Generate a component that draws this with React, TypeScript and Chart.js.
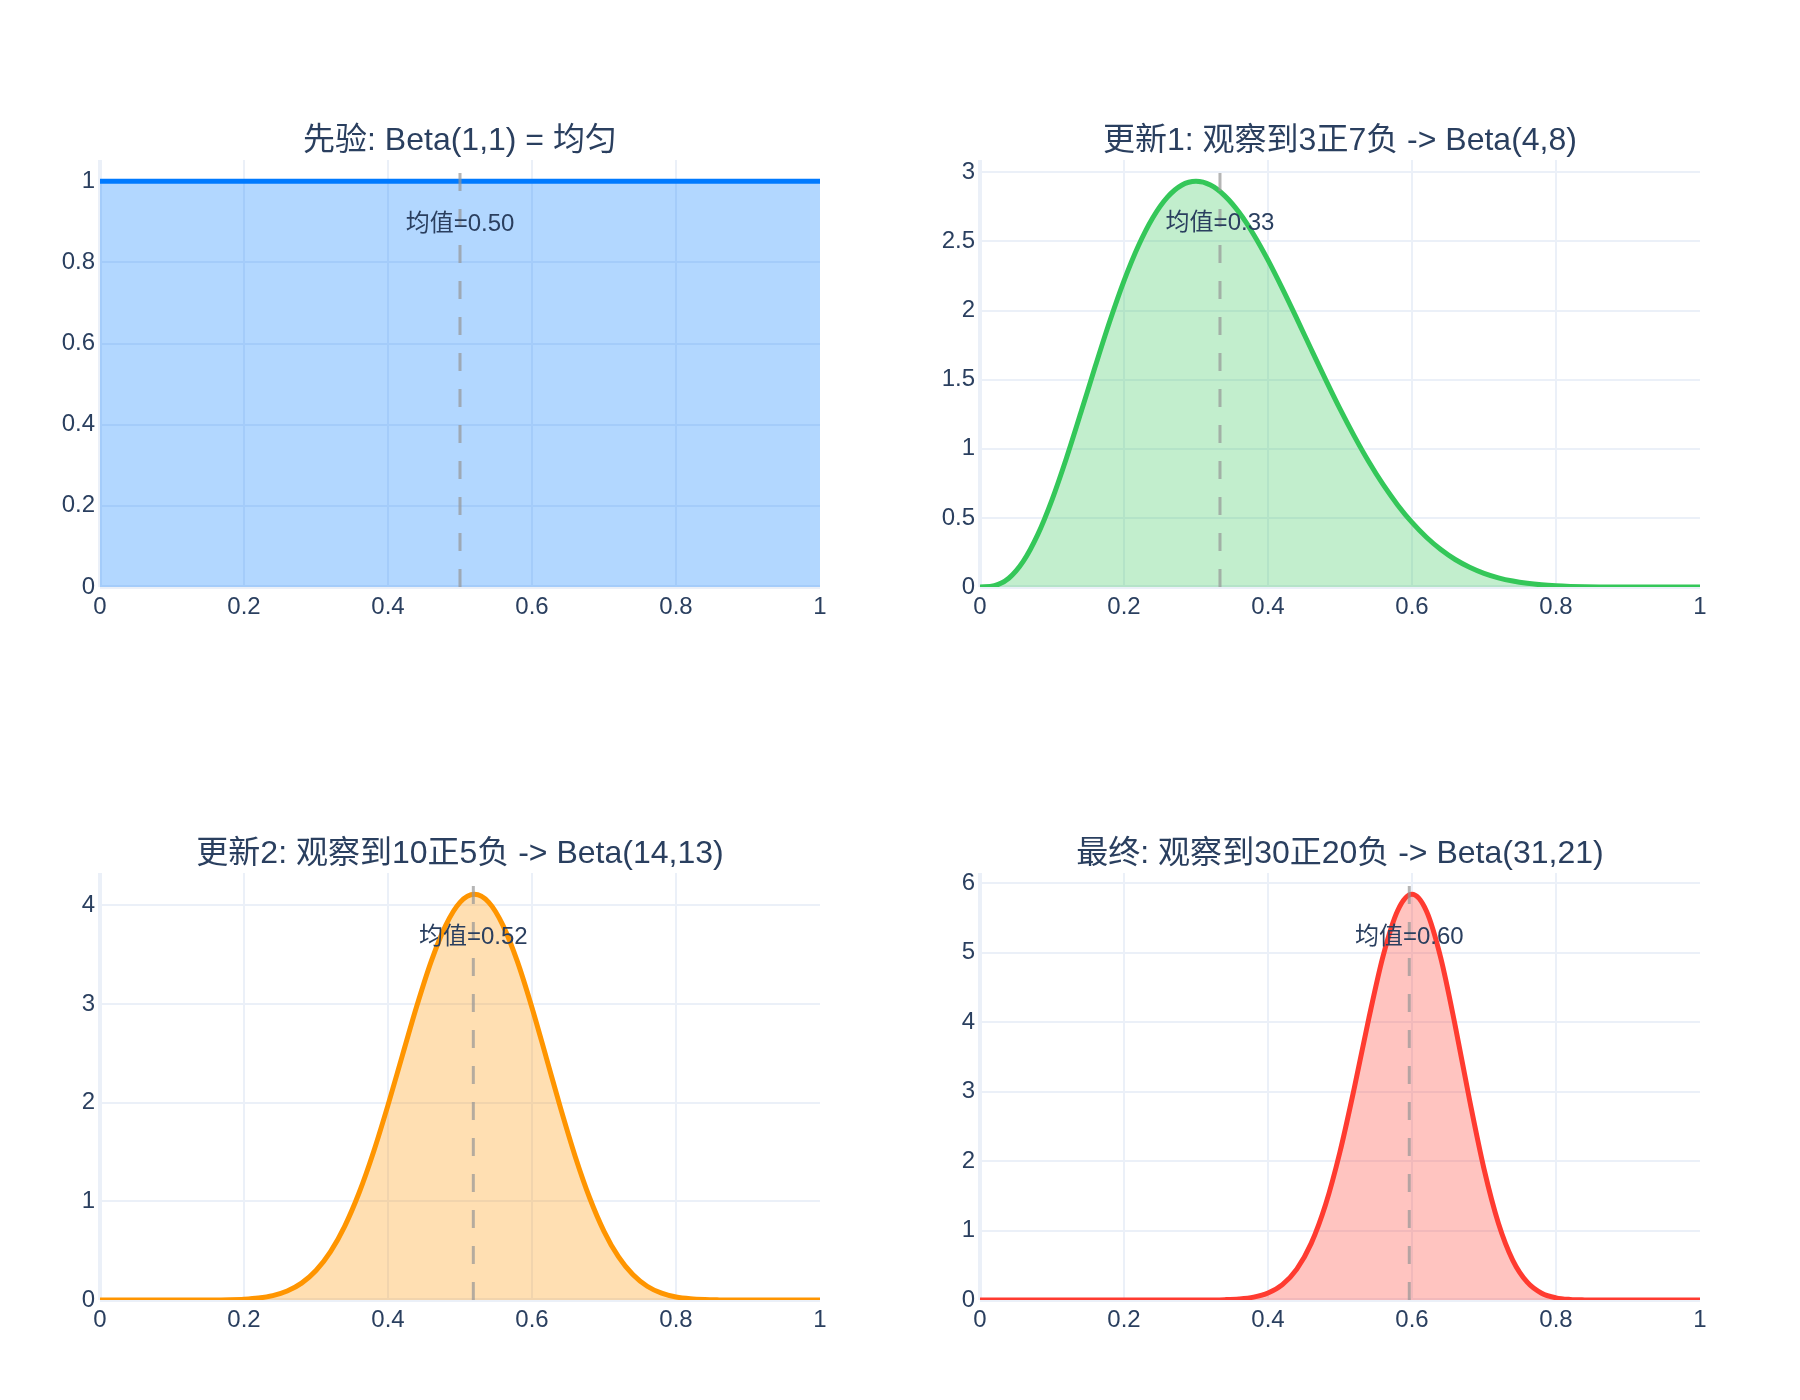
import React, { useEffect, useRef } from "react";
import { Chart, registerables } from "chart.js";

Chart.register(...registerables);

// ---------------- data ----------------
const xGrid = [
  0, 0.02, 0.04, 0.06, 0.08, 0.1, 0.12, 0.14, 0.16, 0.18,
  0.2, 0.22, 0.24, 0.26, 0.28, 0.3, 0.32, 0.34, 0.36, 0.38,
  0.4, 0.42, 0.44, 0.46, 0.48, 0.5, 0.52, 0.54, 0.56, 0.58,
  0.6, 0.62, 0.64, 0.66, 0.68, 0.7, 0.72, 0.74, 0.76, 0.78,
  0.8, 0.82, 0.84, 0.86, 0.88, 0.9, 0.92, 0.94, 0.96, 0.98, 1,
];

// Beta(1,1)
const priorPdf = [
  1, 1, 1, 1, 1, 1, 1, 1, 1, 1,
  1, 1, 1, 1, 1, 1, 1, 1, 1, 1,
  1, 1, 1, 1, 1, 1, 1, 1, 1, 1,
  1, 1, 1, 1, 1, 1, 1, 1, 1, 1,
  1, 1, 1, 1, 1, 1, 1, 1, 1, 1, 1,
];

// Beta(4,8)
const update1Pdf = [
  0, 0.0092, 0.0635, 0.185, 0.377, 0.631, 0.932, 1.26, 1.595, 1.919,
  2.215, 2.469, 2.672, 2.819, 2.907, 2.935, 2.908, 2.83, 2.709, 2.551,
  2.365, 2.159, 1.942, 1.72, 1.501, 1.289, 1.09, 0.906, 0.74, 0.594,
  0.467, 0.36, 0.271, 0.199, 0.143, 0.099, 0.0665, 0.043, 0.0266, 0.0156,
  0.0087, 0.0045, 0.0021, 0.0009, 0.0003, 0.0001, 0, 0, 0, 0, 0,
];

// Beta(14,13)
const update2Pdf = [
  0, 0, 0, 0, 0, 0, 0, 0.0002, 0.0008, 0.0026,
  0.0076, 0.0194, 0.044, 0.0905, 0.1707, 0.2984, 0.4876, 0.7495, 1.0892, 1.5028,
  1.9751, 2.4796, 2.9795, 3.4323, 3.7947, 4.0296, 4.111, 4.0292, 3.7921, 3.4242,
  2.9626, 2.4519, 1.9363, 1.4549, 1.0361, 0.6962, 0.4388, 0.2575, 0.1394, 0.0688,
  0.0305, 0.0119, 0.0039, 0.0011, 0.0002, 0, 0, 0, 0, 0, 0,
];

// Beta(31,21)
const finalPdf = [
  0, 0, 0, 0, 0, 0, 0, 0, 0, 0,
  0, 0, 0, 0, 0.0001, 0.0004, 0.0015, 0.0052, 0.0156, 0.0419,
  0.1013, 0.2223, 0.4449, 0.8156, 1.3746, 2.135, 3.0605, 4.0535, 4.961, 5.6065,
  5.8422, 5.6013, 4.924, 3.9514, 2.8783, 1.889, 1.1066, 0.5718, 0.2567, 0.0982,
  0.0312, 0.008, 0.0016, 0.0002, 0, 0, 0, 0, 0, 0, 0,
];

const subplotTitles = [
  "先验: Beta(1,1) = 均匀",
  "更新1: 观察到3正7负 -> Beta(4,8)",
  "更新2: 观察到10正5负 -> Beta(14,13)",
  "最终: 观察到30正20负 -> Beta(31,21)",
];
const meanValues = [0.5, 0.3333, 0.5185, 0.5962];
const meanLabels = ["均值=0.50", "均值=0.33", "均值=0.52", "均值=0.60"];
const meanLabelY = [0.9, 2.642, 3.7, 5.258];
const yMaxValues = [1.0526, 3.0896, 4.3274, 6.1497];
const yStepValues = [0.2, 0.5, 1, 1];
const xTickStep = 0.2;

const lineColors = ["#007AFF", "#34C759", "#FF9500", "#FF3B30"];
const fillColors = [
  "rgba(0,122,255,0.3)",
  "rgba(52,199,89,0.3)",
  "rgba(255,149,0,0.3)",
  "rgba(255,59,48,0.3)",
];
const allPdfs = [priorPdf, update1Pdf, update2Pdf, finalPdf];

// ---------------- layout ----------------
const PLOT_W = 720;
const PLOT_H = 427;
const PAD_L = 100;
const PAD_T = 80;
const PAD_R = 20;
const PAD_B = 60;
const plotOrigins = [
  { left: 100, top: 160 },
  { left: 980, top: 160 },
  { left: 100, top: 873 },
  { left: 980, top: 873 },
];

const FONT = "'Liberation Sans', Arial, 'Noto Sans CJK SC', sans-serif";
const TEXT_COLOR = "#2a3f5f";
const GRID_COLOR = "#EBF0F8";

const fmt = (v: number) => String(Math.round(v * 1000) / 1000);

const meanLinePlugin = {
  id: "meanLine",
  afterDatasetsDraw(chart: any, _args: any, opts: any) {
    const xs = chart.scales.x;
    const ys = chart.scales.y;
    const ctx = chart.ctx;
    const area = chart.chartArea;
    const px = xs.getPixelForValue(opts.x);
    ctx.save();
    ctx.beginPath();
    ctx.rect(area.left, area.top, area.right - area.left, area.bottom - area.top);
    ctx.clip();
    ctx.setLineDash([18, 18]);
    ctx.lineWidth = 3;
    ctx.strokeStyle = "rgba(150,150,150,0.7)";
    ctx.beginPath();
    ctx.moveTo(px, area.bottom);
    ctx.lineTo(px, area.top);
    ctx.stroke();
    ctx.restore();

    ctx.save();
    ctx.font = `24px ${FONT}`;
    ctx.fillStyle = TEXT_COLOR;
    ctx.textAlign = "center";
    ctx.textBaseline = "middle";
    ctx.fillText(opts.label, px, ys.getPixelForValue(opts.labelY) + 2);
    ctx.restore();
  },
};

function Subplot({ idx }: { idx: number }) {
  const ref = useRef<HTMLCanvasElement | null>(null);
  useEffect(() => {
    if (!ref.current) return;
    const pdf = allPdfs[idx];
    const points = xGrid.map((x, i) => ({ x, y: pdf[i] }));
    const chart = new Chart(ref.current, {
      type: "line",
      data: {
        datasets: [
          {
            data: points,
            borderColor: lineColors[idx],
            backgroundColor: fillColors[idx],
            borderWidth: 5,
            fill: "origin",
            pointRadius: 0,
            cubicInterpolationMode: "monotone",
          },
        ],
      },
      options: {
        responsive: false,
        animation: false,
        devicePixelRatio: 1,
        layout: { padding: { left: 0, top: 0, right: PAD_R, bottom: 0 } },
        plugins: {
          legend: { display: false },
          tooltip: { enabled: false },
          title: {
            display: true,
            text: subplotTitles[idx],
            color: TEXT_COLOR,
            fullSize: false,
            font: { family: FONT, size: 32, weight: "normal", lineHeight: 1.2 },
            padding: { top: 41.6, bottom: 0 },
          },
          meanLine: { x: meanValues[idx], label: meanLabels[idx], labelY: meanLabelY[idx] },
        } as any,
        scales: {
          x: {
            type: "linear",
            min: 0,
            max: 1,
            border: { display: false },
            grid: {
              color: GRID_COLOR,
              lineWidth: (c: any) =>
                c.tick && c.tick.value === 0 ? 4 : c.tick && c.tick.value >= 1 ? 0 : 2,
              drawTicks: false,
            },
            ticks: {
              stepSize: xTickStep,
              autoSkip: false,
              maxRotation: 0,
              padding: 6,
              color: TEXT_COLOR,
              font: { family: FONT, size: 24 },
              callback: (v: any) => fmt(Number(v)),
            },
            afterFit: (s: any) => {
              s.height = PAD_B;
            },
          },
          y: {
            type: "linear",
            min: 0,
            max: yMaxValues[idx],
            border: { display: false },
            grid: {
              color: GRID_COLOR,
              lineWidth: (c: any) => (c.tick && c.tick.value === 0 ? 4 : 2),
              drawTicks: false,
            },
            ticks: {
              stepSize: yStepValues[idx],
              includeBounds: false,
              autoSkip: false,
              padding: 5,
              color: TEXT_COLOR,
              font: { family: FONT, size: 24 },
              callback: (v: any) => fmt(Number(v)),
            },
            afterFit: (s: any) => {
              s.width = PAD_L;
            },
          },
        },
      },
      plugins: [meanLinePlugin],
    } as any);
    return () => chart.destroy();
  }, [idx]);

  const o = plotOrigins[idx];
  const w = PAD_L + PLOT_W + PAD_R;
  const h = PAD_T + PLOT_H + PAD_B;
  return (
    <canvas
      ref={ref}
      width={w}
      height={h}
      style={{
        position: "absolute",
        left: o.left - PAD_L,
        top: o.top - PAD_T,
        width: w,
        height: h,
        display: "block",
      }}
    />
  );
}

export default function App() {
  return (
    <div
      style={{
        position: "absolute",
        left: 0,
        top: 0,
        width: 1800,
        height: 1400,
        background: "#ffffff",
        overflow: "hidden",
      }}
    >
      {[0, 1, 2, 3].map((i) => (
        <Subplot key={i} idx={i} />
      ))}
    </div>
  );
}
